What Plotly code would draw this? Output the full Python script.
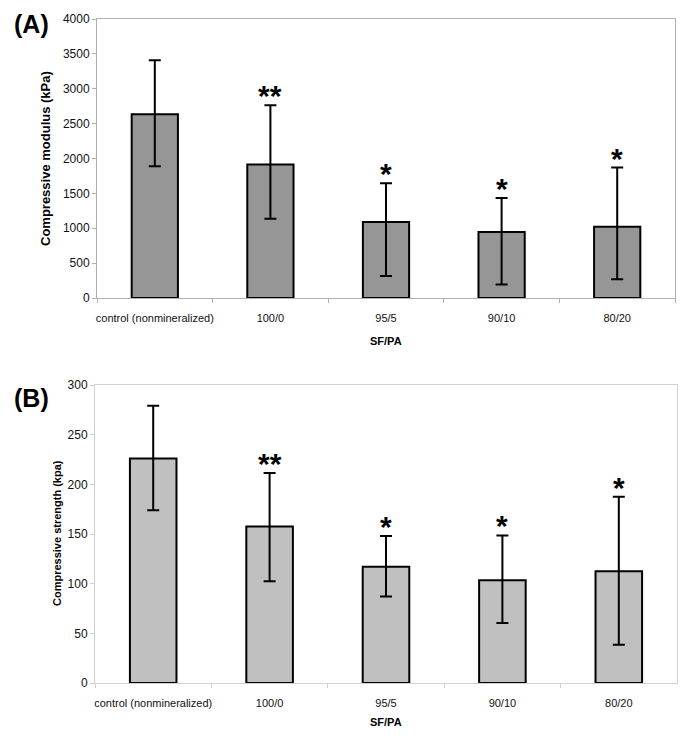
import plotly.graph_objects as go

W, H = 689, 739

# Data
categories = ["control (nonmineralized)", "100/0", "95/5", "90/10", "80/20"]

modulus = [2635, 1915, 1090, 945, 1020]
modulus_err_plus = [775, 850, 555, 490, 850]
modulus_err_minus = [745, 780, 775, 750, 750]
modulus_marks = ["", "**", "*", "*", "*"]

strength = [226, 157.5, 117, 103.5, 112.5]
strength_err_plus = [53, 54, 31, 45, 75]
strength_err_minus = [52, 55, 30, 43, 74]
strength_marks = ["", "**", "*", "*", "*"]

FONT = "Liberation Sans, Arial, sans-serif"


def px_x(p):
    return p / W


def px_y(p):
    return 1 - p / H


fig = go.Figure()

fig.add_trace(go.Bar(
    x=categories, y=modulus, xaxis="x", yaxis="y",
    marker=dict(color="#969696", line=dict(color="black", width=2)),
    error_y=dict(type="data", symmetric=False, array=modulus_err_plus,
                 arrayminus=modulus_err_minus, color="black", thickness=2, width=6),
    showlegend=False,
))
fig.add_trace(go.Bar(
    x=categories, y=strength, xaxis="x2", yaxis="y2",
    marker=dict(color="#c0c0c0", line=dict(color="black", width=2)),
    error_y=dict(type="data", symmetric=False, array=strength_err_plus,
                 arrayminus=strength_err_minus, color="black", thickness=2, width=6),
    showlegend=False,
))

x_common = dict(
    showline=True, mirror=True, showgrid=False, zeroline=False, automargin=False,
    ticks="outside", ticklen=4, tickwidth=1, type="category",
    tickson="boundaries", ticklabelstandoff=10, tickangle=0,
    tickfont=dict(family=FONT, size=11, color="#111"),
)
y_common = dict(
    showline=True, mirror=True, showgrid=False, zeroline=False, automargin=False,
    ticks="outside", ticklen=4, tickwidth=1,
    tickfont=dict(family=FONT, size=12, color="#111"),
)

fig.update_layout(
    width=W, height=H,
    margin=dict(l=0, r=0, t=0, b=0, pad=0, autoexpand=False),
    paper_bgcolor="white", plot_bgcolor="white",
    bargap=0.6,
    font=dict(family=FONT, color="black"),
    xaxis=dict(domain=[px_x(97), px_x(675)], anchor="y",
               linecolor="#b0b0b0", tickcolor="#b0b0b0", **x_common),
    yaxis=dict(domain=[px_y(298), px_y(19)], anchor="x", range=[0, 4000],
               dtick=500, linecolor="#b0b0b0", tickcolor="#b0b0b0", **y_common),
    xaxis2=dict(domain=[px_x(95), px_x(677)], anchor="y2",
                linecolor="#d0d0d0", tickcolor="#d0d0d0", **x_common),
    yaxis2=dict(domain=[px_y(683), px_y(385)], anchor="x2", range=[0, 300],
                dtick=50, linecolor="#d0d0d0", tickcolor="#d0d0d0", **y_common),
)

annotations = []

# significance marks above the error bars
for cat, val, err, mark in zip(categories, modulus, modulus_err_plus, modulus_marks):
    if mark:
        annotations.append(dict(x=cat, y=val + err, xref="x", yref="y", text=mark,
                                showarrow=False, yanchor="bottom", yshift=-9,
                                font=dict(family=FONT, size=30, color="black", weight="bold")))
for cat, val, err, mark in zip(categories, strength, strength_err_plus, strength_marks):
    if mark:
        annotations.append(dict(x=cat, y=val + err, xref="x2", yref="y2", text=mark,
                                showarrow=False, yanchor="bottom", yshift=-9,
                                font=dict(family=FONT, size=30, color="black", weight="bold")))

# panel labels
annotations.append(dict(x=px_x(12), y=px_y(24), xref="paper", yref="paper", text="<b>(A)</b>",
                        showarrow=False, xanchor="left", yanchor="middle",
                        font=dict(family=FONT, size=25, color="black")))
annotations.append(dict(x=px_x(12), y=px_y(398), xref="paper", yref="paper", text="<b>(B)</b>",
                        showarrow=False, xanchor="left", yanchor="middle",
                        font=dict(family=FONT, size=25, color="black")))

# axis titles
annotations.append(dict(x=px_x(45), y=px_y(159), xref="paper", yref="paper",
                        text="<b>Compressive modulus (kPa)</b>", textangle=-90,
                        xanchor="center", yanchor="middle",
                        showarrow=False, font=dict(family=FONT, size=13, color="black")))
annotations.append(dict(x=px_x(57), y=px_y(533), xref="paper", yref="paper",
                        text="<b>Compressive strength (kpa)</b>", textangle=-90,
                        xanchor="center", yanchor="middle",
                        showarrow=False, font=dict(family=FONT, size=11, color="black")))
annotations.append(dict(x=px_x(386), y=px_y(341), xref="paper", yref="paper",
                        text="<b>SF/PA</b>", showarrow=False,
                        xanchor="center", yanchor="middle",
                        font=dict(family=FONT, size=11, color="black")))
annotations.append(dict(x=px_x(386), y=px_y(722), xref="paper", yref="paper",
                        text="<b>SF/PA</b>", showarrow=False,
                        xanchor="center", yanchor="middle",
                        font=dict(family=FONT, size=11, color="black")))

fig.update_layout(annotations=annotations)

# drop the browser's default page margin so the figure sits at the top-left corner
fig.write_html("out.html", config={"displayModeBar": False},
               post_script="document.body.style.margin = '0';")
